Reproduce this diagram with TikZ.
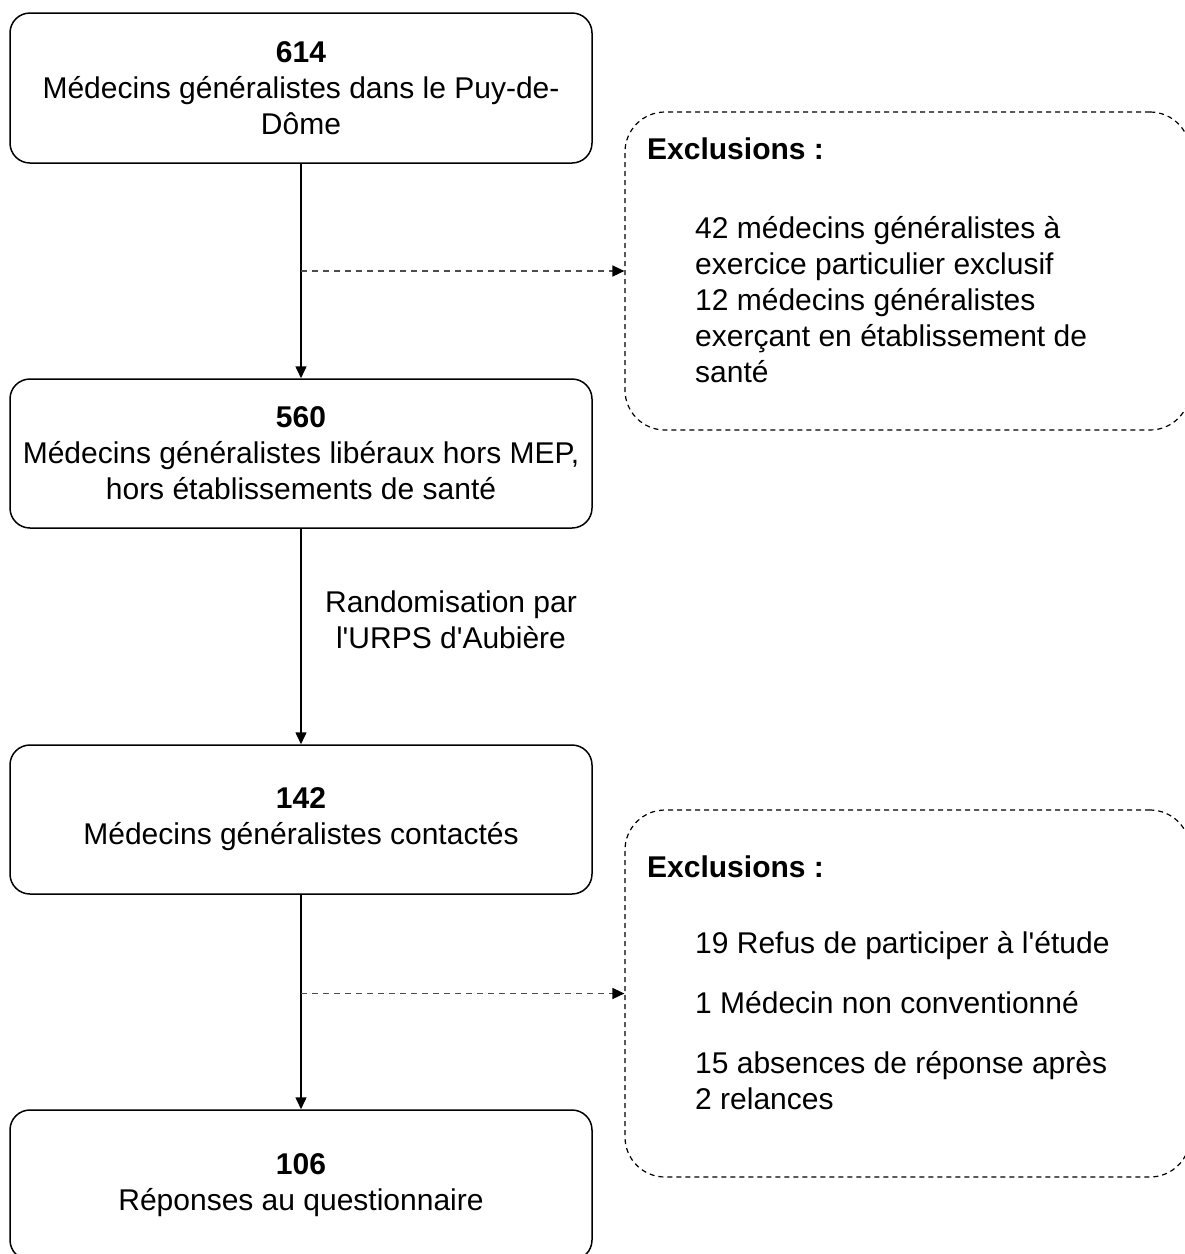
\documentclass[tikz,border=0pt]{standalone}
\usepackage{fontspec}
\setmainfont{Liberation Sans}
\usetikzlibrary{arrows.meta}
\begin{document}
\begin{tikzpicture}[x=1pt,y=-1pt,
  every node/.style={font=\fontsize{30}{36}\selectfont},
  mainbox/.style={draw, line width=1.5pt, rounded corners=20pt, minimum width=582pt, align=center, inner sep=0pt},
  exclbox/.style={draw, line width=1.2pt, dash pattern=on 5pt off 4pt, rounded corners=40pt, minimum width=565pt},
  flow/.style={line width=1.5pt, -{Triangle[length=12pt,width=11pt]}},
  side/.style={line width=1.5pt, black!70, dash pattern=on 6pt off 5pt, -{Triangle[length=12pt,width=11pt,color=black]}},
  txt/.style={inner sep=0pt, align=left}
]
\useasboundingbox (0,0) rectangle (1185,1254);
\clip (0,0) rectangle (1185,1254);
\fill[white] (0,0) rectangle (1185,1254);

\node[mainbox, minimum height=150pt] (b1) at (301,88) {\textbf{614}\\Médecins généralistes dans le Puy-de-\\Dôme};
\node[mainbox, minimum height=149pt] (b2) at (301,453.5) {\textbf{560}\\Médecins généralistes libéraux hors MEP,\\hors établissements de santé};
\node[mainbox, minimum height=149pt] (b3) at (301,819.5) {\textbf{142}\\Médecins généralistes contactés};
\node[mainbox, minimum height=150pt] (b4) at (301,1185) {\textbf{106}\\Réponses au questionnaire};

\node[exclbox, minimum height=318pt] (e1) at (907.5,271) {};
\node[exclbox, minimum height=367pt] (e2) at (907.5,993.5) {};

\node[txt, anchor=base west] (e1t) at (647,159) {\textbf{Exclusions :}};
\node[txt, anchor=base west] (e1i) at (695,382) {42 médecins généralistes à\\exercice particulier exclusif\\12 médecins généralistes\\exerçant en établissement de\\santé};
\node[txt, anchor=base west] (e2t) at (647,877) {\textbf{Exclusions :}};
\node[txt, anchor=base west] (e2i) at (695,1109) {19 Refus de participer à l\textquotesingle étude\\[24pt]1 Médecin non conventionné\\[24pt]15 absences de réponse après\\2 relances};

\node[inner sep=0pt, align=center, anchor=base] (lab) at (451,648) {Randomisation par\\l\textquotesingle URPS d\textquotesingle Aubière};

\draw[flow] (b1) -- (b2);
\draw[flow] (b2) -- (b3);
\draw[flow] (b3) -- (b4);

\coordinate (s1) at (301,271);
\coordinate (s2) at (301,993.5);
\draw[side] (s1) -- (e1.west);
\draw[side] (s2) -- (e2.west);
\end{tikzpicture}
\end{document}
